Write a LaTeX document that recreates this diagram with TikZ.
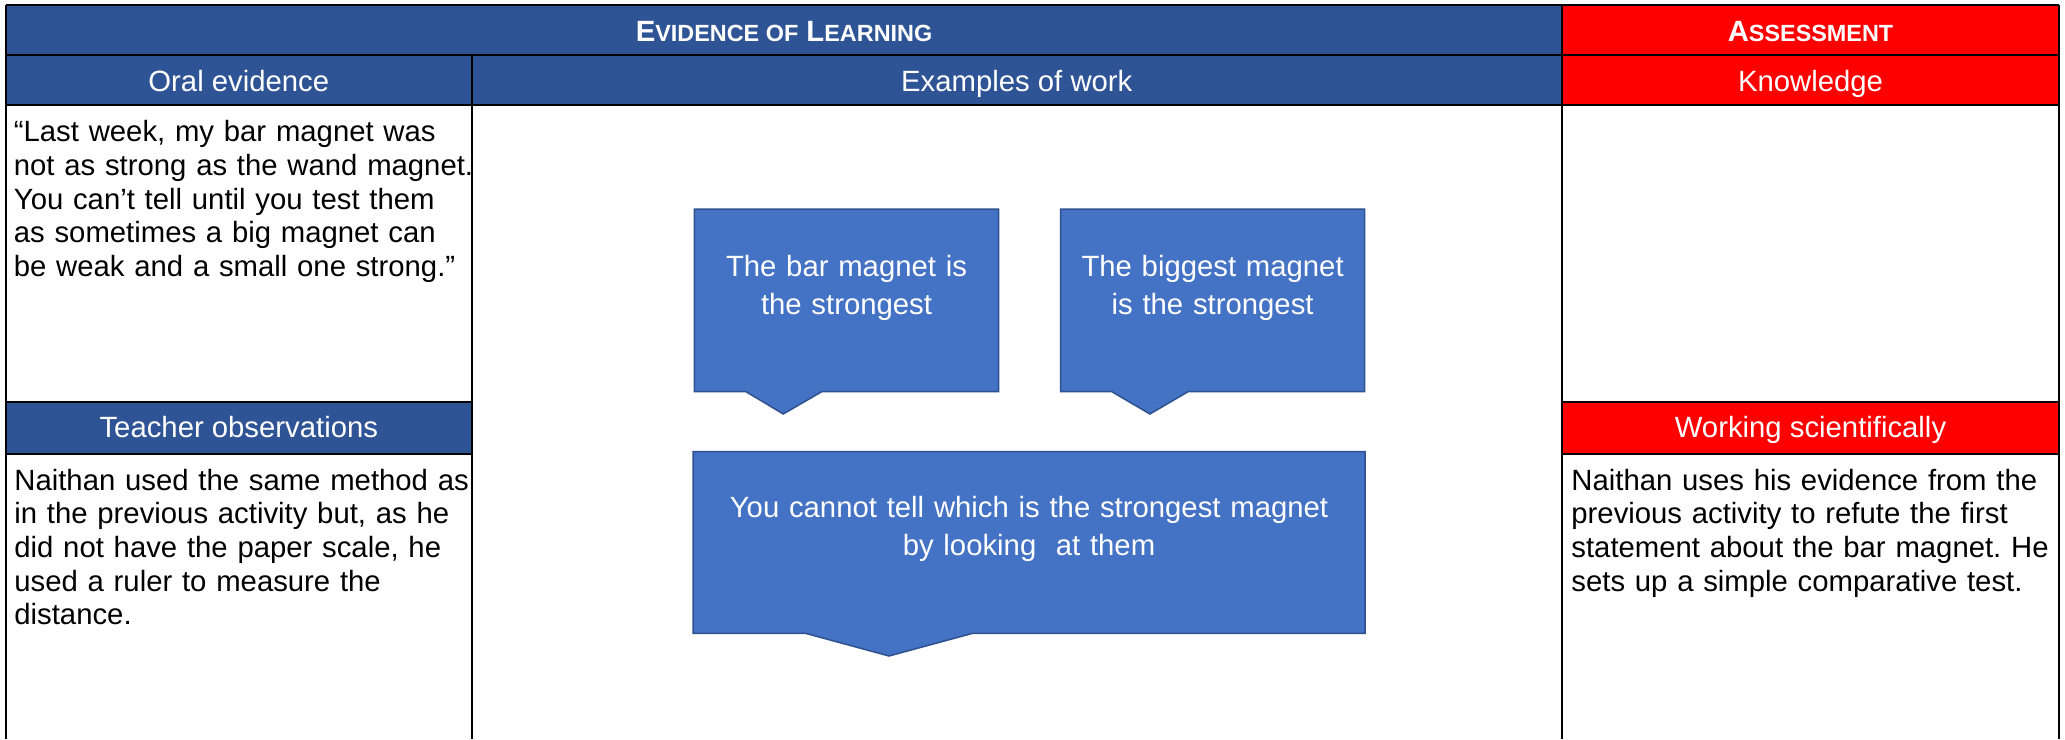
\documentclass[tikz,border=0pt]{standalone}
\usepackage{fontspec}
\setmainfont{Liberation Sans}
\frenchspacing
\definecolor{hdrblue}{HTML}{2F5496}
\definecolor{hdrred}{HTML}{FF0000}
\definecolor{callfill}{HTML}{4472C4}
\definecolor{callline}{HTML}{2F528F}
\newcommand{\mysc}[1]{{\fontsize{11.7}{12}\selectfont #1}}
\tikzset{
  grid/.style={line width=1pt, draw=black},
  hdrtext/.style={text=white, font=\fontsize{14.65}{16.85}\selectfont, inner sep=0pt, anchor=base},
  hdrbold/.style={text=white, font=\bfseries\fontsize{14.65}{16.85}\selectfont, inner sep=0pt, anchor=base},
  bodytext/.style={font=\fontsize{14.65}{16.85}\selectfont, inner sep=0pt, anchor=base west, align=left},
  callshape/.style={fill=callfill, draw=callline, line width=0.75pt, line join=miter},
  calltext/.style={text=white, font=\fontsize{14.65}{19.1}\selectfont, inner sep=0pt, anchor=base, align=center},
}
\begin{document}
\begin{tikzpicture}[x=0.5pt,y=-0.5pt]
\useasboundingbox (0,0) rectangle (2065,739);
% header fills
\fill[hdrblue] (6,5) rectangle (1562,105);
\fill[hdrred] (1562,5) rectangle (2059,105);
\fill[hdrblue] (6,402) rectangle (471.7,454);
\fill[hdrred] (1562,402) rectangle (2059,454);
% grid lines
\draw[grid] (6,5) -- (2059,5);
\draw[grid] (6,55) -- (2059,55);
\draw[grid] (6,105) -- (2059,105);
\draw[grid] (6,402) -- (471.7,402);
\draw[grid] (6,454) -- (471.7,454);
\draw[grid] (1562,402) -- (2059,402);
\draw[grid] (1562,454) -- (2059,454);
\draw[grid] (6,5) -- (6,739);
\draw[grid] (471.7,55) -- (471.7,739);
\draw[grid] (1562,5) -- (1562,739);
\draw[grid] (2059,5) -- (2059,739);
% header texts
\node[hdrbold] (evid) at (784,41.7) {E\mysc{VIDENCE OF} L\mysc{EARNING}};
\node[hdrbold] (assess) at (1810.5,41.7) {A\mysc{SSESSMENT}};
\node[hdrtext] (oral) at (238.8,91.7) {Oral evidence};
\node[hdrtext] (examples) at (1016.8,91.7) {Examples of work};
\node[hdrtext] (knowledge) at (1810.5,91.7) {Knowledge};
\node[hdrtext] (teacher) at (238.8,437.5) {Teacher observations};
\node[hdrtext] (working) at (1810.5,437.5) {Working scientifically};
% body texts
\node[bodytext, text width=240pt] (oraltext) at (13.5,141.7) {“Last week, my bar magnet was\\not as strong as the wand magnet.\\You can’t tell until you test them\\as sometimes a big magnet can\\be weak and a small one strong.”};
\node[bodytext, text width=240pt] (teachtext) at (14,490) {Naithan used the same method as\\in the previous activity but, as he\\did not have the paper scale, he\\used a ruler to measure the\\distance.};
\node[bodytext, text width=250pt] (worktext) at (1571,490) {Naithan uses his evidence from the\\previous activity to refute the first\\statement about the bar magnet. He\\sets up a simple comparative test.};
% callouts
\path[callshape] (694.3,209) -- (998.7,209) -- (998.7,391.7) -- (821.7,391.7) -- (783.3,414) -- (746,391.7) -- (694.3,391.7) -- cycle;
\path[callshape] (1060.7,209) -- (1364.6,209) -- (1364.6,391.7) -- (1188.1,391.7) -- (1149.9,414) -- (1111.9,391.7) -- (1060.7,391.7) -- cycle;
\path[callshape] (693,451.7) -- (1365,451.7) -- (1365,633.3) -- (972.7,633.3) -- (889,656) -- (805.4,633.3) -- (693,633.3) -- cycle;
\node[calltext, text width=150pt] (c1) at (846.5,276) {The bar magnet is\\the strongest};
\node[calltext, text width=150pt] (c2) at (1212.6,276) {The biggest magnet\\is the strongest};
\node[calltext, text width=320pt] (c3) at (1029,517) {You cannot tell which is the strongest magnet\\by looking~ at them};
\end{tikzpicture}
\end{document}
